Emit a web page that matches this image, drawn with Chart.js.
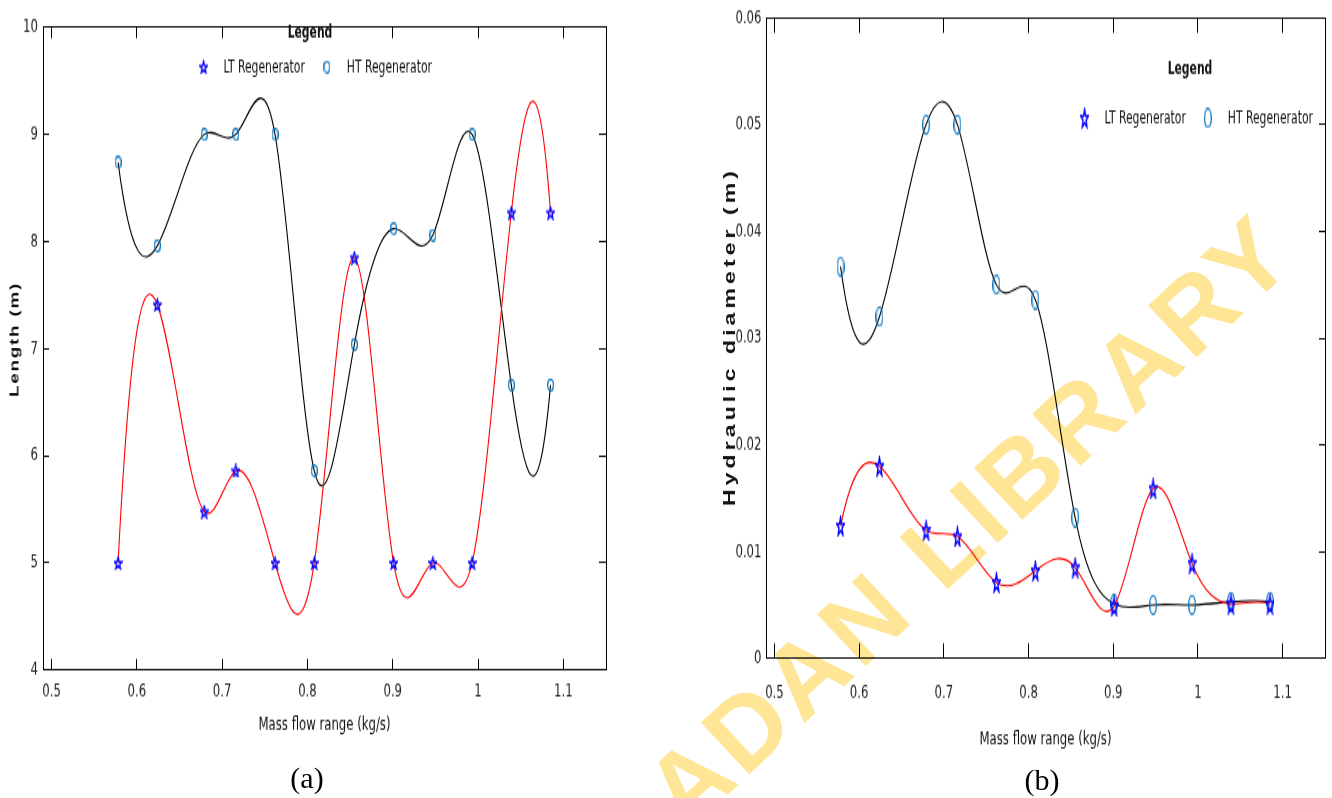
<!DOCTYPE html>
<html>
<head>
<meta charset="utf-8">
<script src="https://cdn.jsdelivr.net/npm/chart.js@4.4.1/dist/chart.umd.min.js"></script>
<style>
html,body{margin:0;padding:0;background:#fff;}
#page{position:relative;width:1332px;height:798px;overflow:hidden;background:#fff;}
.wrap{position:absolute;top:0;height:550px;transform-origin:0 0;}
.wrap canvas{position:absolute;left:0;top:0;}
.ytitle{position:absolute;white-space:nowrap;color:#111;transform:translate(-50%,-50%) rotate(-90deg);line-height:1;}
.cap{position:absolute;font-family:"Liberation Serif","Times New Roman",serif;font-size:30px;color:#000;transform:translate(-50%,-50%);line-height:1;}
#wmLayer{position:absolute;left:0;top:0;width:1332px;height:798px;overflow:hidden;pointer-events:none;mix-blend-mode:multiply;}
#wm{position:absolute;right:20px;bottom:526px;font-family:"Liberation Sans",Arial,sans-serif;font-weight:bold;font-size:103px;letter-spacing:5px;line-height:1;color:#FFE596;white-space:nowrap;transform-origin:100% 100%;transform:rotate(-43deg);}
</style>
</head>
<body>
<div id="page">
  <div class="wrap" id="wrapA" style="left:0;width:640px;">
    <canvas id="chartA" width="640" height="550"></canvas>
    <div class="ytitle" id="ytA"></div>
  </div>
  <div class="wrap" id="wrapB" style="left:660px;width:672px;">
    <canvas id="chartB" width="672" height="550"></canvas>
    <div class="ytitle" id="ytB"></div>
  </div>
  <div class="cap" style="left:307px;top:778px;">(a)</div>
  <div class="cap" style="left:1042px;top:780px;">(b)</div>
  <div id="wmLayer"><div id="wm">UNIVERSITY OF IBADAN LIBRARY</div></div>
</div>
<script>
// ---------------- data ----------------
const massFlow = [0.578, 0.624, 0.679, 0.716, 0.762, 0.808, 0.855, 0.901, 0.947, 0.993, 1.039, 1.085];
const lengthLT = [5.0, 7.41, 5.48, 5.86, 5.0, 5.0, 7.85, 5.0, 5.0, 5.0, 8.27, 8.27];
const lengthHT = [8.74, 7.96, 9.0, 9.0, 9.0, 5.86, 7.04, 8.12, 8.06, 9.0, 6.66, 6.66];
const diamLT = [0.0124, 0.0180, 0.0120, 0.0114, 0.0071, 0.0082, 0.0085, 0.0049, 0.0159, 0.0089, 0.0051, 0.0051];
const diamHT = [0.0367, 0.0320, 0.0500, 0.0500, 0.0350, 0.0336, 0.0132, 0.0051, 0.0050, 0.0050, 0.0053, 0.0053];
const seriesLabels = ['LT Regenerator', 'HT Regenerator'];
const xTickValues = [0.5, 0.6, 0.7, 0.8, 0.9, 1.0, 1.1];
const xTickLabels = ['0.5', '0.6', '0.7', '0.8', '0.9', '1', '1.1'];
const yTickValuesA = [4, 5, 6, 7, 8, 9, 10];
const yTickLabelsA = ['4', '5', '6', '7', '8', '9', '10'];
const yTickValuesB = [0, 0.01, 0.02, 0.03, 0.04, 0.05, 0.06];
const yTickLabelsB = ['0', '0.01', '0.02', '0.03', '0.04', '0.05', '0.06'];
const xTitle = 'Mass flow range (kg/s)';
const yTitleA = 'Length (m)';
const yTitleB = 'Hydraulic diameter (m)';
const legendTitle = 'Legend';

// ---------------- fonts / stretch ----------------
function fontAvailable(name) {
  const c = document.createElement('canvas').getContext('2d');
  const t = 'Regenerator 0.123 Mass flow';
  c.font = '40px monospace'; const a = c.measureText(t).width;
  c.font = '40px "' + name + '", monospace'; const b = c.measureText(t).width;
  return Math.abs(a - b) > 0.5;
}
const NARROW_NAME = ['Liberation Sans Narrow', 'Arial Narrow', 'DejaVu Sans Condensed', 'Roboto Condensed'].find(fontAvailable);
const NARROW = NARROW_NAME ? '"' + NARROW_NAME + '", sans-serif' : '"Liberation Sans", Arial, sans-serif';
const TRUE_NARROW = NARROW_NAME === 'Liberation Sans Narrow' || NARROW_NAME === 'Arial Narrow';
const FS = TRUE_NARROW ? 14 : 12;       // legend text
const FT = TRUE_NARROW ? 15 : 13;       // tick labels
const CH = 550;
const S = 798 / CH; // vertical stretch of the figure
document.querySelectorAll('.wrap').forEach(w => { w.style.transform = 'scaleY(' + S + ')'; });

// ---------------- markers ----------------
function starImage(w, h, lw, color) {
  const c = document.createElement('canvas'); c.width = w; c.height = h;
  const g = c.getContext('2d');
  const rx = (w - lw) / 2 / 0.951, ry = (h - lw) / 2, cx = w / 2, cy = h / 2 + ry * 0.095;
  g.beginPath();
  for (let k = 0; k < 10; k++) {
    const r = k % 2 === 0 ? 1 : 0.40;
    const a = -Math.PI / 2 + k * Math.PI / 5;
    const px = cx + rx * r * Math.cos(a), py = cy + ry * r * Math.sin(a);
    if (k === 0) g.moveTo(px, py); else g.lineTo(px, py);
  }
  g.closePath();
  g.strokeStyle = color; g.lineWidth = lw; g.lineJoin = 'miter'; g.stroke();
  return c;
}
function ellipseImage(w, h, lw, color) {
  const c = document.createElement('canvas'); c.width = w; c.height = h;
  const g = c.getContext('2d');
  g.beginPath();
  g.ellipse(w / 2, h / 2, (w - lw) / 2, (h - lw) / 2, 0, 0, Math.PI * 2);
  g.strokeStyle = color; g.lineWidth = lw; g.stroke();
  return c;
}

// ---------------- not-a-knot cubic spline through the plotted points ----------------
function splineSlopes(X, Y) {
  const n = X.length;
  const h = [];
  for (let i = 0; i < n - 1; i++) h.push(X[i + 1] - X[i]);
  const A = Array.from({length: n}, () => new Array(n).fill(0));
  const b = new Array(n).fill(0);
  A[0][0] = h[1]; A[0][1] = -(h[0] + h[1]); A[0][2] = h[0];
  for (let i = 1; i < n - 1; i++) {
    A[i][i - 1] = h[i - 1]; A[i][i] = 2 * (h[i - 1] + h[i]); A[i][i + 1] = h[i];
    b[i] = 6 * ((Y[i + 1] - Y[i]) / h[i] - (Y[i] - Y[i - 1]) / h[i - 1]);
  }
  A[n - 1][n - 3] = h[n - 2]; A[n - 1][n - 2] = -(h[n - 3] + h[n - 2]); A[n - 1][n - 1] = h[n - 3];
  for (let c = 0; c < n; c++) {
    let p = c;
    for (let r = c + 1; r < n; r++) if (Math.abs(A[r][c]) > Math.abs(A[p][c])) p = r;
    [A[c], A[p]] = [A[p], A[c]]; [b[c], b[p]] = [b[p], b[c]];
    for (let r = c + 1; r < n; r++) {
      const f = A[r][c] / A[c][c];
      if (!f) continue;
      for (let k = c; k < n; k++) A[r][k] -= f * A[c][k];
      b[r] -= f * b[c];
    }
  }
  const M = new Array(n).fill(0);
  for (let r = n - 1; r >= 0; r--) {
    let s = b[r];
    for (let k = r + 1; k < n; k++) s -= A[r][k] * M[k];
    M[r] = s / A[r][r];
  }
  const m = [];
  for (let i = 0; i < n - 1; i++) m.push((Y[i + 1] - Y[i]) / h[i] - h[i] * (2 * M[i] + M[i + 1]) / 6);
  m.push((Y[n - 1] - Y[n - 2]) / h[n - 2] + h[n - 2] * (M[n - 2] + 2 * M[n - 1]) / 6);
  return m;
}
const splinePlugin = {
  id: 'splineCurve',
  beforeDatasetDraw(chart, args) {
    const meta = args.meta;
    const line = meta.dataset, pts = meta.data;
    if (!line || pts.length < 4) return;
    const X = pts.map(p => p.x), Y = pts.map(p => p.y);
    const m = splineSlopes(X, Y);
    for (let i = 0; i < pts.length; i++) {
      const hp = i > 0 ? X[i] - X[i - 1] : 0;
      const hn = i < pts.length - 1 ? X[i + 1] - X[i] : 0;
      pts[i].cp1x = X[i] - hp / 3; pts[i].cp1y = Y[i] - m[i] * hp / 3;
      pts[i].cp2x = X[i] + hn / 3; pts[i].cp2y = Y[i] + m[i] * hn / 3;
    }
    line._pointsUpdated = true;
    line._path = undefined;
  }
};

// ---------------- in-axes legend ----------------
const legendPlugin = {
  id: 'boxLegend',
  afterDraw(chart, args, o) {
    const ctx = chart.ctx;
    ctx.save();
    ctx.fillStyle = '#111';
    ctx.textBaseline = 'middle';
    ctx.textAlign = 'center';
    ctx.font = 'bold ' + FS + 'px ' + NARROW;
    ctx.fillText(legendTitle, o.titleX, o.titleY);
    ctx.font = FS + 'px ' + NARROW;
    ctx.textAlign = 'left';
    const ds = chart.data.datasets;
    const widths = ds.map(d => ctx.measureText(d.label).width);
    const g1 = 20, g2 = 22;
    const mw0 = ds[0].pointStyle.width;
    let span = mw0 / 2;
    widths.forEach((w, i) => { span += g1 + w + (i < widths.length - 1 ? g2 : 0); });
    let mx = o.cx - span / 2 + mw0 / 2;
    ds.forEach((d, i) => {
      const img = d.pointStyle;
      ctx.drawImage(img, mx - img.width / 2, o.itemY - img.height / 2);
      ctx.fillText(d.label, mx + g1, o.itemY + 0.5);
      mx = mx + g1 + widths[i] + g2;
    });
    ctx.restore();
  }
};

// ---------------- chart builder ----------------
function buildChart(id, spec) {
  const canvas = document.getElementById(id);
  const W = canvas.width, H = canvas.height;
  const A = spec.area;
  const setTicks = vals => scale => { scale.ticks = vals.map(v => ({value: v})); };
  const tickFont = {family: NARROW, size: FT};
  const gridBase = {display: true, drawOnChartArea: false, drawTicks: true, color: '#000', lineWidth: 1};
  const border = {display: true, color: '#000', width: 1};
  const xBase = {type: 'linear', min: 0.49, max: 1.15, afterBuildTicks: setTicks(xTickValues)};
  const yBase = {type: 'linear', min: spec.yMin, max: spec.yMax, afterBuildTicks: setTicks(spec.yVals)};
  return new Chart(canvas, {
    type: 'line',
    data: {
      datasets: [
        {label: seriesLabels[0], data: massFlow.map((x, i) => ({x: x, y: spec.lt[i]})),
         borderColor: '#ff0000', borderWidth: 1.1, pointStyle: spec.star, pointRadius: 4,
         tension: 0.4, fill: false, xAxisID: 'x', yAxisID: 'y'},
        {label: seriesLabels[1], data: massFlow.map((x, i) => ({x: x, y: spec.ht[i]})),
         borderColor: '#000000', borderWidth: 1.1, pointStyle: spec.circle, pointRadius: 4,
         tension: 0.4, fill: false, xAxisID: 'x', yAxisID: 'y'}
      ]
    },
    options: {
      responsive: false, animation: false, events: [],
      layout: {padding: {left: 0, top: A.top, right: W - A.right, bottom: 0}},
      plugins: {legend: {display: false}, tooltip: {enabled: false}, boxLegend: spec.legend},
      scales: {
        x: Object.assign({}, xBase, {
          position: 'bottom',
          afterFit: s => { s.height = H - A.bottom; },
          ticks: {callback: (v, i) => xTickLabels[i], padding: spec.xLabelPad, font: tickFont, color: '#222', maxRotation: 0, autoSkip: false},
          grid: Object.assign({}, gridBase, {tickLength: -spec.xTick}),
          border: border,
          title: {display: true, text: xTitle, font: {family: NARROW, size: FS + 1}, color: '#111', padding: {top: 0, bottom: spec.xTitlePad}}
        }),
        x2: Object.assign({}, xBase, {
          position: 'top',
          afterFit: s => { s.height = 0; },
          ticks: {display: false},
          grid: Object.assign({}, gridBase, {tickLength: -spec.xTick}),
          border: border
        }),
        y: Object.assign({}, yBase, {
          position: 'left',
          afterFit: s => { s.width = A.left; },
          ticks: {callback: (v, i) => spec.yLabels[i], padding: spec.yLabelPad, font: tickFont, color: '#222', autoSkip: false},
          grid: Object.assign({}, gridBase, spec.yTickL ? {tickLength: -spec.yTickL} : {drawTicks: false}),
          border: border
        }),
        y2: Object.assign({}, yBase, {
          position: 'right',
          afterFit: s => { s.width = 0; },
          ticks: {display: false},
          grid: Object.assign({}, gridBase, {tickLength: -spec.yTickR}),
          border: border
        })
      }
    },
    plugins: [splinePlugin, legendPlugin]
  });
}

const halfTick = FT * 1.2 / 2;
const halfTitle = (FS + 1) * 1.2 / 2;
// chart (a)
buildChart('chartA', {
  lt: lengthLT, ht: lengthHT, yMin: 4, yMax: 10, yVals: yTickValuesA, yLabels: yTickLabelsA,
  area: {left: 43, right: 606, top: 12 / S, bottom: 670 / S},
  star: starImage(9, 10, 1.3, '#0000ff'), circle: ellipseImage(7, 9, 1.2, '#0072BD'),
  xTick: 11 / S, yTickL: 6, yTickR: 7,
  xLabelPad: (691.5 - 670) / S - halfTick + 11 / S, yLabelPad: 5 + 6,
  xTitlePad: CH - halfTitle - 725 / S,
  legend: {titleX: 310, titleY: 33 / S, cx: 315.5, itemY: 67 / S}
});
// chart (b)
buildChart('chartB', {
  lt: diamLT, ht: diamHT, yMin: 0, yMax: 0.06, yVals: yTickValuesB, yLabels: yTickLabelsB,
  area: {left: 106, right: 665, top: 16 / S, bottom: 658.3 / S},
  star: starImage(9, 15, 1.4, '#0000ff'), circle: ellipseImage(8, 14, 1.3, '#0072BD'),
  xTick: 15 / S, yTickL: 0, yTickR: 6,
  xLabelPad: (693 - 658.3) / S - halfTick + 15 / S, yLabelPad: 4.5,
  xTitlePad: CH - halfTitle - 740 / S,
  legend: {titleX: 530, titleY: 70 / S, cx: 536.5, itemY: 118 / S}
});

// rotated y titles (stretched with the figure)
function placeTitle(id, text, font, cx, cy, targetLen) {
  const el = document.getElementById(id);
  const c = document.createElement('canvas').getContext('2d');
  c.font = font;
  const w = c.measureText(text).width;
  const ls = Math.max(0, (targetLen - w) / text.length);
  el.style.font = font;
  el.style.letterSpacing = ls + 'px';
  el.style.left = cx + 'px';
  el.style.top = cy + 'px';
  el.textContent = text;
}
placeTitle('ytA', yTitleA, 'bold 13px "Liberation Sans", Arial, sans-serif', 14, 340 / S, 115 / S);
placeTitle('ytB', yTitleB, 'bold 16px "Liberation Sans", Arial, sans-serif', 70, 337 / S, 339 / S);
</script>
</body>
</html>
